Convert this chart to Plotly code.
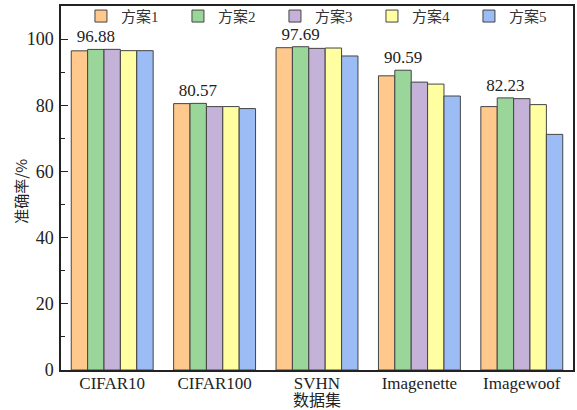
import plotly.graph_objects as go

categories = ["CIFAR10", "CIFAR100", "SVHN", "Imagenette", "Imagewoof"]
series_names = ["方案1", "方案2", "方案3", "方案4", "方案5"]
scheme1 = [96.45, 80.5, 97.4, 88.9, 79.6]
scheme2 = [96.88, 80.57, 97.69, 90.59, 82.23]
scheme3 = [96.9, 79.6, 97.2, 87.0, 82.0]
scheme4 = [96.5, 79.6, 97.3, 86.4, 80.2]
scheme5 = [96.5, 79.0, 94.9, 82.8, 71.2]
series_values = [scheme1, scheme2, scheme3, scheme4, scheme5]
colors = ["#FFC98E", "#9AD69A", "#C4B2D8", "#FFFFA2", "#9BBCF4"]
y_ticks = [0, 20, 40, 60, 80, 100]

fig = go.Figure()
for i, (name, vals) in enumerate(zip(series_names, series_values)):
    kw = {}
    if i == 1:
        kw = dict(text=[f"{v:.2f}" for v in vals], textposition="outside",
                  textfont=dict(family="Liberation Serif", size=17, color="#222"),
                  cliponaxis=False, constraintext="none")
    fig.add_trace(go.Bar(x=categories, y=vals, name=name,
                         marker=dict(color=colors[i], line=dict(color="#444", width=1)),
                         **kw))

fig.update_layout(
    width=577, height=410,
    margin=dict(l=61, r=4, t=6, b=40, autoexpand=False),
    plot_bgcolor="white", paper_bgcolor="white",
    barmode="group", bargap=0.2, bargroupgap=0,
    font=dict(family="Liberation Serif, Noto Sans CJK SC", size=17, color="#222"),
    legend=dict(orientation="h", x=0.039, y=1.017, xanchor="left", yanchor="top",
                entrywidth=52, entrywidthmode="pixels",
                font=dict(family="Liberation Serif, Noto Sans CJK SC", size=15, color="#333"),
                bgcolor="rgba(0,0,0,0)", traceorder="normal"),
    annotations=[
        dict(text="数据集", xref="paper", yref="paper", x=0.5, y=0,
             yshift=-29, xanchor="center", yanchor="middle", showarrow=False,
             font=dict(family="Noto Sans CJK SC", size=16, color="#222")),
        dict(text="准确率/%", xref="paper", yref="paper", x=0, y=0.49,
             xshift=-40, xanchor="center", yanchor="middle", showarrow=False,
             textangle=-90,
             font=dict(family="Noto Sans CJK SC", size=15, color="#222")),
    ],
)
fig.update_yaxes(range=[0, 110], tickvals=y_ticks, ticks="inside", ticklen=7,
                 tickwidth=1.2, tickcolor="#222", automargin=False,
                 tickfont=dict(size=18), ticklabelstandoff=2,
                 minor=dict(tickvals=[10, 30, 50, 70, 90], ticks="inside", ticklen=4,
                            tickcolor="#222", showgrid=False),
                 showline=True, linecolor="#222", linewidth=1.5, mirror=True,
                 showgrid=False, zeroline=False)
fig.update_xaxes(showline=True, linecolor="#222", linewidth=1.5, mirror=True,
                 ticks="", showgrid=False, automargin=False, ticklabelstandoff=-3,
                 tickfont=dict(size=17))

fig.write_html("out.html", config={"displayModeBar": False},
               post_script="document.body.style.margin='0';")
